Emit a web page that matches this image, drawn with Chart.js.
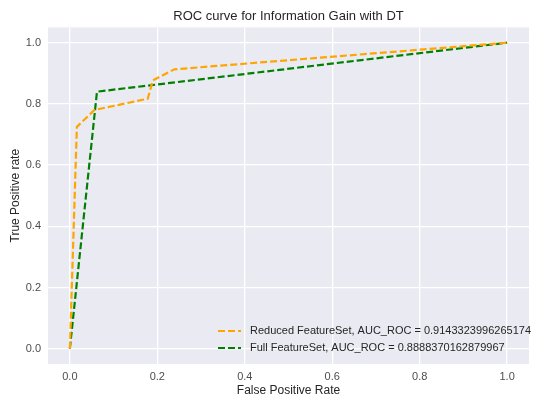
<!DOCTYPE html>
<html>
<head>
<meta charset="utf-8">
<script src="https://cdn.jsdelivr.net/npm/chart.js@4.4.1/dist/chart.umd.min.js"></script>
<style>
  html, body { margin: 0; padding: 0; background: #ffffff; }
  #wrap { position: relative; width: 534px; height: 400px; }
</style>
</head>
<body>
<div id="wrap"><canvas id="c" width="534" height="400"></canvas></div>
<script>
// ---- data ----
const reducedFPR = [0, 0.016, 0.056, 0.178, 0.190, 0.239, 1.0];
const reducedTPR = [0, 0.725, 0.780, 0.817, 0.877, 0.913, 1.0];
const fullFPR = [0, 0.062, 1.0];
const fullTPR = [0, 0.840, 1.0];
const seriesLabels = [
  'Reduced FeatureSet, AUC_ROC = 0.9143323996265174',
  'Full FeatureSet, AUC_ROC = 0.8888370162879967'
];
const xTicks = [0.0, 0.2, 0.4, 0.6, 0.8, 1.0];
const yTicks = [0.0, 0.2, 0.4, 0.6, 0.8, 1.0];
const chartTitle = 'ROC curve for Information Gain with DT';
const xTitle = 'False Positive Rate';
const yTitle = 'True Positive rate';

const toPts = (xs, ys) => xs.map((x, i) => ({ x: x, y: ys[i] }));

const FONT = "'Liberation Sans', Arial, sans-serif";
const TEXT = '#262626';

const bgPlugin = {
  id: 'bg',
  beforeDraw(chart) {
    const { ctx, chartArea: a } = chart;
    ctx.save();
    ctx.fillStyle = '#EAEAF2';
    ctx.fillRect(a.left, a.top, a.right - a.left, a.bottom - a.top);
    ctx.restore();
  }
};

const legendPlugin = {
  id: 'inlegend',
  afterDraw(chart) {
    const { ctx } = chart;
    ctx.save();
    ctx.font = '11px ' + FONT;
    ctx.textBaseline = 'middle';
    const rows = [331, 348];
    chart.data.datasets.forEach((ds, i) => {
      const y = rows[i];
      ctx.strokeStyle = ds.borderColor;
      ctx.lineWidth = 2;
      ctx.setLineDash([7, 3]);
      ctx.beginPath();
      ctx.moveTo(218, y);
      ctx.lineTo(241, y);
      ctx.stroke();
      ctx.setLineDash([]);
      ctx.fillStyle = TEXT;
      ctx.fillText(ds.label, 250, y);
    });
    ctx.restore();
  }
};

new Chart(document.getElementById('c'), {
  type: 'scatter',
  data: {
    datasets: [
      {
        label: seriesLabels[0],
        data: toPts(reducedFPR, reducedTPR),
        showLine: true,
        borderColor: '#FFA500',
        backgroundColor: '#FFA500',
        borderWidth: 2.2,
        borderDash: [7, 3],
        pointRadius: 0,
        tension: 0
      },
      {
        label: seriesLabels[1],
        data: toPts(fullFPR, fullTPR),
        showLine: true,
        borderColor: '#008000',
        backgroundColor: '#008000',
        borderWidth: 2.2,
        borderDash: [7, 3],
        pointRadius: 0,
        tension: 0
      }
    ]
  },
  options: {
    responsive: false,
    animation: false,
    devicePixelRatio: 1,
    layout: { padding: { top: 0, right: 5, left: 0, bottom: 0 } },
    plugins: {
      legend: { display: false },
      tooltip: { enabled: false },
      title: {
        display: true,
        fullSize: false,
        text: chartTitle,
        color: TEXT,
        font: { family: FONT, size: 13, weight: 'normal', lineHeight: 1.2 },
        padding: { top: 8.4, bottom: 3.4 }
      }
    },
    scales: {
      x: {
        type: 'linear',
        min: -0.05,
        max: 1.05,
        border: { display: false },
        grid: { color: '#FFFFFF', lineWidth: 1.3, drawTicks: false },
        afterBuildTicks(scale) { scale.ticks = xTicks.map(v => ({ value: v })); },
        afterFit(scale) { scale.height = 36; },
        ticks: {
          color: '#4d4d4d',
          padding: 6,
          font: { family: FONT, size: 11 },
          callback: v => Number(v).toFixed(1),
          maxRotation: 0
        },
        title: {
          display: true,
          text: xTitle,
          color: TEXT,
          font: { family: FONT, size: 12, lineHeight: 1.2 },
          padding: { top: 0, bottom: 2 }
        }
      },
      y: {
        type: 'linear',
        min: -0.05,
        max: 1.05,
        border: { display: false },
        grid: { color: '#FFFFFF', lineWidth: 1.3, drawTicks: false },
        afterBuildTicks(scale) { scale.ticks = yTicks.map(v => ({ value: v })); },
        afterFit(scale) { scale.width = 48; },
        ticks: {
          color: '#4d4d4d',
          padding: 7,
          font: { family: FONT, size: 11 },
          callback: v => Number(v).toFixed(1)
        },
        title: {
          display: true,
          text: yTitle,
          color: TEXT,
          font: { family: FONT, size: 12, lineHeight: 1.2 },
          padding: { top: 8, bottom: 0 }
        }
      }
    }
  },
  plugins: [bgPlugin, legendPlugin]
});
</script>
</body>
</html>
